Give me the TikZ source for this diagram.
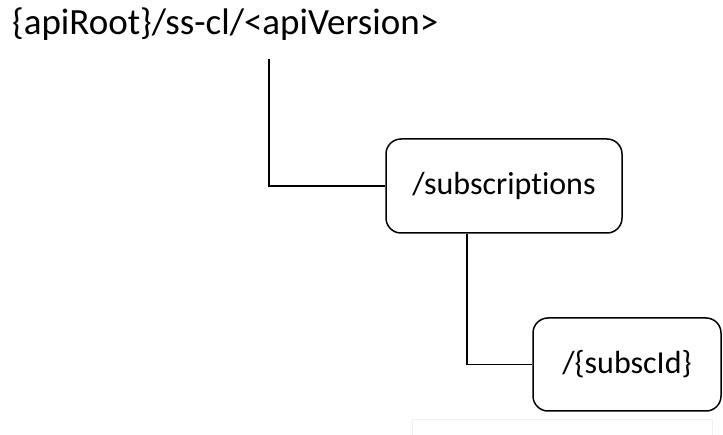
\documentclass[tikz,border=0pt]{standalone}
\usepackage{fontspec}
\setmainfont{Carlito}[Ligatures=NoCommon]
\usetikzlibrary{positioning}

\tikzset{
  resbox/.style={draw, line width=1.5pt, rounded corners=15pt, align=center,
    inner sep=0pt, font=\fontsize{32}{38}\selectfont},
  link/.style={line width=1.5pt}
}

\begin{document}
\begin{tikzpicture}[x=1pt, y=1pt]

    %% Background
    \useasboundingbox (0,0) rectangle (723,-435);

  % Root URI
  \node[anchor=base west, inner sep=0pt, font=\fontsize{37}{44}\selectfont] (root) at (12,-35) {\{apiRoot\}/ss-cl/<apiVersion>};
  \coordinate (rootfoot) at (269,-59);

  % Resources
  \node[resbox, minimum width=236pt, minimum height=94pt] (subs) at (504,-186) {/subscriptions};
  \node[resbox, minimum width=188pt, minimum height=93pt] (subsc) at (627,-364.5) {/\{subscId\}};
  \coordinate (subsfoot) at ([xshift=-37pt]subs.south);

  % Connectors
  \draw[link] (rootfoot) |- (subs.west);
  \draw[link] (subsfoot) |- (subsc.west);

  % Faint frame below
  \draw[black!6, line width=1pt] (412,-435) -- (412,-420) -- (712,-420) -- (712,-435);

\end{tikzpicture}
\end{document}
